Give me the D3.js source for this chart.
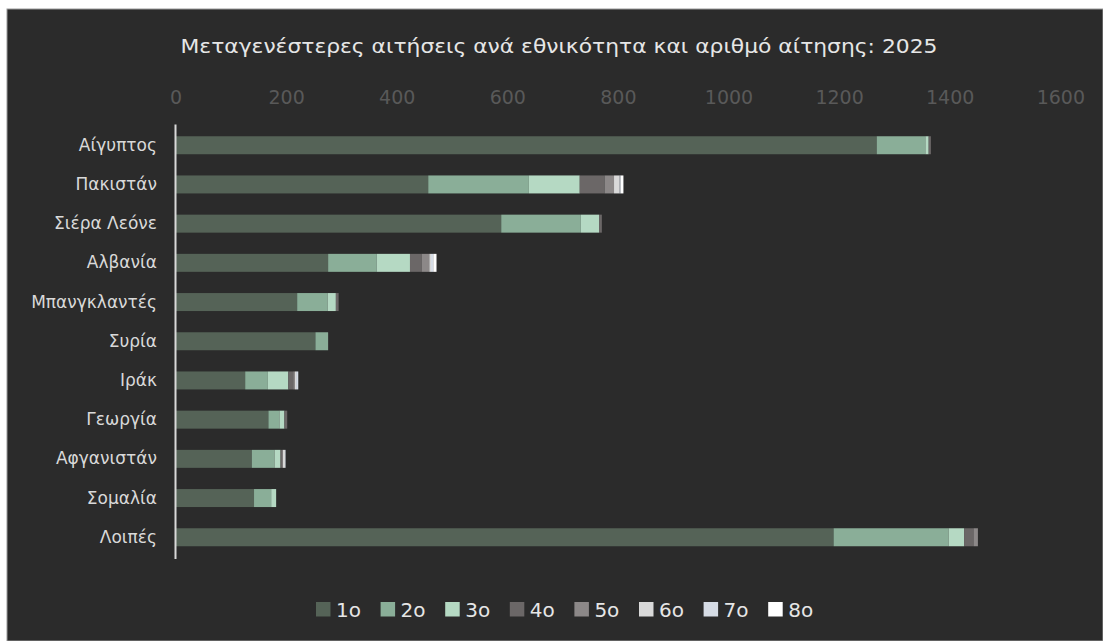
<!DOCTYPE html>
<html><head><meta charset="utf-8">
<script src="https://cdn.jsdelivr.net/npm/d3@7"></script>
<style>
html,body{margin:0;padding:0;background:#ffffff;}
svg{display:block;}
</style></head>
<body><svg id="chart" width="1103" height="641"></svg>
<script>
const categories = ["Αίγυπτος","Πακιστάν","Σιέρα Λεόνε","Αλβανία","Μπανγκλαντές","Συρία","Ιράκ","Γεωργία","Αφγανιστάν","Σομαλία","Λοιπές"];
const seriesNames = ["1ο","2ο","3ο","4ο","5ο","6ο","7ο","8ο"];
const s1 = [1268, 457, 589, 276, 220, 253, 126, 168, 138, 142, 1190];
const s2 = [88, 182, 144, 88, 55, 23, 41, 20, 41, 31, 208];
const s3 = [6, 92, 33, 60, 15, 0, 37, 9, 11, 9, 28];
const s4 = [4, 45, 5, 21, 5, 0, 9, 5, 3, 0, 17];
const s5 = [0, 17, 0, 14, 0, 0, 3, 0, 1, 0, 8];
const s6 = [0, 10, 0, 3, 0, 0, 2, 0, 4, 0, 0];
const s7 = [0, 2, 0, 4, 0, 0, 4, 0, 1, 0, 0];
const s8 = [0, 5, 0, 6, 0, 0, 0, 0, 0, 0, 0];
const tickValues = [0,200,400,600,800,1000,1200,1400,1600];
const colors = ["#556357","#8aae98","#b5d9c3","#6b6767","#8c8888","#d9d9d9","#d6dce5","#ffffff"];
const title = "Μεταγενέστερες αιτήσεις ανά εθνικότητα και αριθμό αίτησης: 2025";

const seriesData = [s1,s2,s3,s4,s5,s6,s7,s8];
const rows = categories.map((c,i)=>{
  const r = {cat:c};
  seriesNames.forEach((s,j)=>{ r[s] = seriesData[j][i]; });
  return r;
});

const FONT = '"DejaVu Sans","Noto Sans",sans-serif';
const svg = d3.select("#chart");
svg.append("rect").attr("x",7).attr("y",9).attr("width",1096).attr("height",632)
  .attr("fill","#2b2b2b").attr("stroke","#9a9a9a").attr("stroke-width",1);

const x = d3.scaleLinear().domain([0,1600]).range([175.5,1060.3]);
const y = d3.scaleBand().domain(categories).range([124,558.5]).paddingInner(0.541).paddingOuter(0.3125);
const color = d3.scaleOrdinal().domain(seriesNames).range(colors);

svg.append("text").attr("x",559).attr("y",53).attr("text-anchor","middle")
  .attr("fill","#e6e6e6").attr("font-size",20).attr("font-family",FONT)
  .attr("textLength",757).attr("lengthAdjust","spacingAndGlyphs").text(title);

const xAxis = svg.append("g").attr("transform","translate(0,104)")
  .call(d3.axisTop(x).tickValues(tickValues).tickSize(0).tickPadding(0).tickFormat(d3.format("d")));
xAxis.attr("font-family",FONT);
xAxis.select(".domain").remove();
xAxis.selectAll("text").attr("fill","#595959").attr("font-size",19).attr("dy","0");

const stack = d3.stack().keys(seriesNames);
const layers = stack(rows);
svg.append("g").selectAll("g").data(layers).join("g")
  .attr("fill",d=>color(d.key))
  .selectAll("rect").data(d=>d).join("rect")
  .attr("x",d=>x(d[0])).attr("y",d=>y(d.data.cat))
  .attr("width",d=>Math.max(0,x(d[1])-x(d[0]))).attr("height",y.bandwidth());

const yAxis = svg.append("g").attr("transform","translate(175,0)")
  .call(d3.axisLeft(y).tickSize(0).tickPadding(18));
yAxis.attr("font-family",FONT);
yAxis.select(".domain").attr("stroke","#d9d9d9").attr("stroke-width",2);
yAxis.selectAll("text").attr("fill","#d9d9d9").attr("font-size",17);

const legend = svg.append("g").attr("transform","translate(316,602)");
const li = legend.selectAll("g").data(seriesNames).join("g")
  .attr("transform",(d,i)=>`translate(${i*64.6},0)`);
li.append("rect").attr("width",14.5).attr("height",14.5).attr("fill",d=>color(d));
li.append("text").attr("x",20).attr("y",15).attr("fill","#e6e6e6").attr("font-size",20).attr("font-family",FONT).text(d=>d);
</script></body></html>
